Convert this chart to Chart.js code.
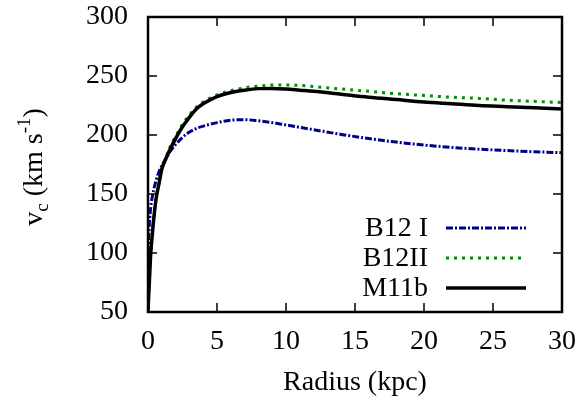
<!DOCTYPE html>
<html>
<head>
<meta charset="utf-8">
<script src="https://cdn.jsdelivr.net/npm/chart.js@4.4.0/dist/chart.umd.min.js"></script>
<style>
  body { margin: 0; background: #fff; }
  canvas { display: block; }
</style>
</head>
<body>
<canvas id="chartCanvas" width="582" height="403"></canvas>
<script>
const radius = [0, 0.05, 0.1, 0.2, 0.3, 0.4, 0.6, 0.8, 1, 1.3, 1.6, 2, 2.5, 3, 3.5, 4, 5, 6, 7, 8, 9, 10, 11, 12, 14, 16, 18, 20, 22, 24, 26, 28, 30];

const vcB12I = [100, 113, 125, 139, 147, 153, 162, 169, 174, 180, 186, 192, 198, 202.5, 205.5, 207.5, 210.5, 212.5, 213, 212, 210.5, 208.5, 206.5, 204.5, 200.5, 197, 194, 191.5, 189.5, 188, 186.8, 185.8, 185];
const vcB12II = [55, 66, 78, 101, 116, 128, 148, 160, 171, 181, 190, 199, 209, 217, 223.5, 228, 234, 237.5, 240, 241.5, 242.3, 242.3, 242, 241, 239, 237, 235, 233.5, 232, 231, 229.5, 228.5, 227.5];
const vcM11b = [50, 64, 76, 100, 114, 127, 147, 159, 171, 180, 188, 197, 207, 215, 222, 226.5, 232.5, 236, 238, 239.3, 239.5, 239, 238, 237, 234.5, 232, 230, 228, 226.5, 225, 224, 223, 222];

const seriesNames = ['B12 I', 'B12II', 'M11b'];
const xTicks = [0, 5, 10, 15, 20, 25, 30];
const yTicks = [50, 100, 150, 200, 250, 300];

const serif = '"Liberation Serif", "Times New Roman", serif';

function points(ys) {
    return radius.map((r, i) => ({ x: r, y: ys[i] }));
}

// boxed frame with inward ticks on all four sides
const framePlugin = {
    id: 'frame',
    afterDatasetsDraw(chart) {
        const ctx = chart.ctx;
        const a = chart.chartArea;
        const xs = chart.scales.x;
        const ys = chart.scales.y;
        const len = 9;
        ctx.save();
        ctx.strokeStyle = '#000';
        ctx.lineWidth = 1.5;
        ctx.beginPath();
        xTicks.forEach(v => {
            const px = xs.getPixelForValue(v);
            ctx.moveTo(px, a.bottom);
            ctx.lineTo(px, a.bottom - len);
            ctx.moveTo(px, a.top);
            ctx.lineTo(px, a.top + len);
        });
        yTicks.forEach(v => {
            const py = ys.getPixelForValue(v);
            ctx.moveTo(a.left, py);
            ctx.lineTo(a.left + len, py);
            ctx.moveTo(a.right, py);
            ctx.lineTo(a.right - len, py);
        });
        ctx.stroke();
        ctx.lineWidth = 2.5;
        ctx.strokeRect(a.left, a.top, a.right - a.left, a.bottom - a.top);
        ctx.restore();
    },
};

// key in the lower right, text right-aligned with a line sample
const keyPlugin = {
    id: 'key',
    afterDatasetsDraw(chart) {
        const ctx = chart.ctx;
        const textRight = 428;
        const lineLeft = 446;
        const lineRight = 526;
        const rows = [228, 258, 288];
        ctx.save();
        ctx.font = '28px ' + serif;
        ctx.textAlign = 'right';
        ctx.textBaseline = 'middle';
        ctx.fillStyle = '#000';
        chart.data.datasets.forEach((ds, i) => {
            const y = rows[i];
            ctx.fillText(ds.label, textRight, y + 1);
            ctx.strokeStyle = ds.borderColor;
            ctx.lineWidth = ds.borderWidth;
            ctx.setLineDash(ds.borderDash || []);
            ctx.beginPath();
            ctx.moveTo(lineLeft, y);
            ctx.lineTo(lineRight, y);
            ctx.stroke();
            ctx.setLineDash([]);
        });
        ctx.restore();
    },
};

// y axis title with subscript and superscript
const yTitlePlugin = {
    id: 'yTitle',
    afterDraw(chart) {
        const ctx = chart.ctx;
        ctx.save();
        ctx.translate(34, 167);
        ctx.rotate(-Math.PI / 2);
        ctx.fillStyle = '#000';
        ctx.textBaseline = 'alphabetic';
        ctx.textAlign = 'left';
        const big = '28px ' + serif;
        const small = '19px ' + serif;
        const parts = [
            { t: 'v', f: big, dy: 0 },
            { t: 'c', f: small, dy: 6 },
            { t: ' (km s', f: big, dy: 0 },
            { t: '-1', f: small, dy: -12 },
            { t: ')', f: big, dy: 0 },
        ];
        let w = 0;
        parts.forEach(p => { ctx.font = p.f; w += ctx.measureText(p.t).width; });
        let x = -w / 2;
        parts.forEach(p => {
            ctx.font = p.f;
            ctx.fillText(p.t, x, 8 + p.dy);
            x += ctx.measureText(p.t).width;
        });
        ctx.restore();
    },
};

const chartData = {
    datasets: [
        {
            label: seriesNames[0],
            data: points(vcB12I),
            borderColor: '#00008b',
            borderWidth: 3,
            borderDash: [7, 2, 2, 2],
            order: 2,
        },
        {
            label: seriesNames[1],
            data: points(vcB12II),
            borderColor: '#009000',
            borderWidth: 3,
            borderDash: [3, 5],
            order: 1,
        },
        {
            label: seriesNames[2],
            data: points(vcM11b),
            borderColor: '#000',
            borderWidth: 3.5,
            order: 0,
        },
    ],
};

const chartOptions = {
    responsive: false,
    animation: false,
    layout: {
        padding: { top: 17, right: 20, left: 0, bottom: 0 },
    },
    elements: {
        point: { radius: 0 },
        line: { cubicInterpolationMode: 'monotone', fill: false },
    },
    plugins: {
        legend: { display: false },
        tooltip: { enabled: false },
    },
    scales: {
        x: {
            type: 'linear',
            min: 0,
            max: 30,
            afterFit(scale) {
                scale.height = 91;
                scale.paddingLeft = 0;
                scale.paddingRight = 0;
            },
            afterBuildTicks(scale) { scale.ticks = xTicks.map(v => ({ value: v })); },
            grid: { display: false, drawTicks: false },
            border: { display: false },
            ticks: {
                color: '#000',
                padding: 13,
                maxRotation: 0,
                font: { family: serif, size: 28 },
            },
            title: {
                display: true,
                text: 'Radius (kpc)',
                color: '#000',
                padding: { top: 0, bottom: 4 },
                font: { family: serif, size: 28 },
            },
        },
        y: {
            type: 'linear',
            min: 50,
            max: 300,
            afterFit(scale) {
                scale.width = 148;
                scale.paddingTop = 0;
                scale.paddingBottom = 0;
            },
            afterBuildTicks(scale) { scale.ticks = yTicks.map(v => ({ value: v })); },
            grid: { display: false, drawTicks: false },
            border: { display: false },
            ticks: {
                color: '#000',
                padding: 20,
                font: { family: serif, size: 28 },
            },
        },
    },
};

new Chart(document.getElementById('chartCanvas').getContext('2d'), {
    type: 'line',
    data: chartData,
    options: chartOptions,
    plugins: [framePlugin, keyPlugin, yTitlePlugin],
});
</script>
</body>
</html>
